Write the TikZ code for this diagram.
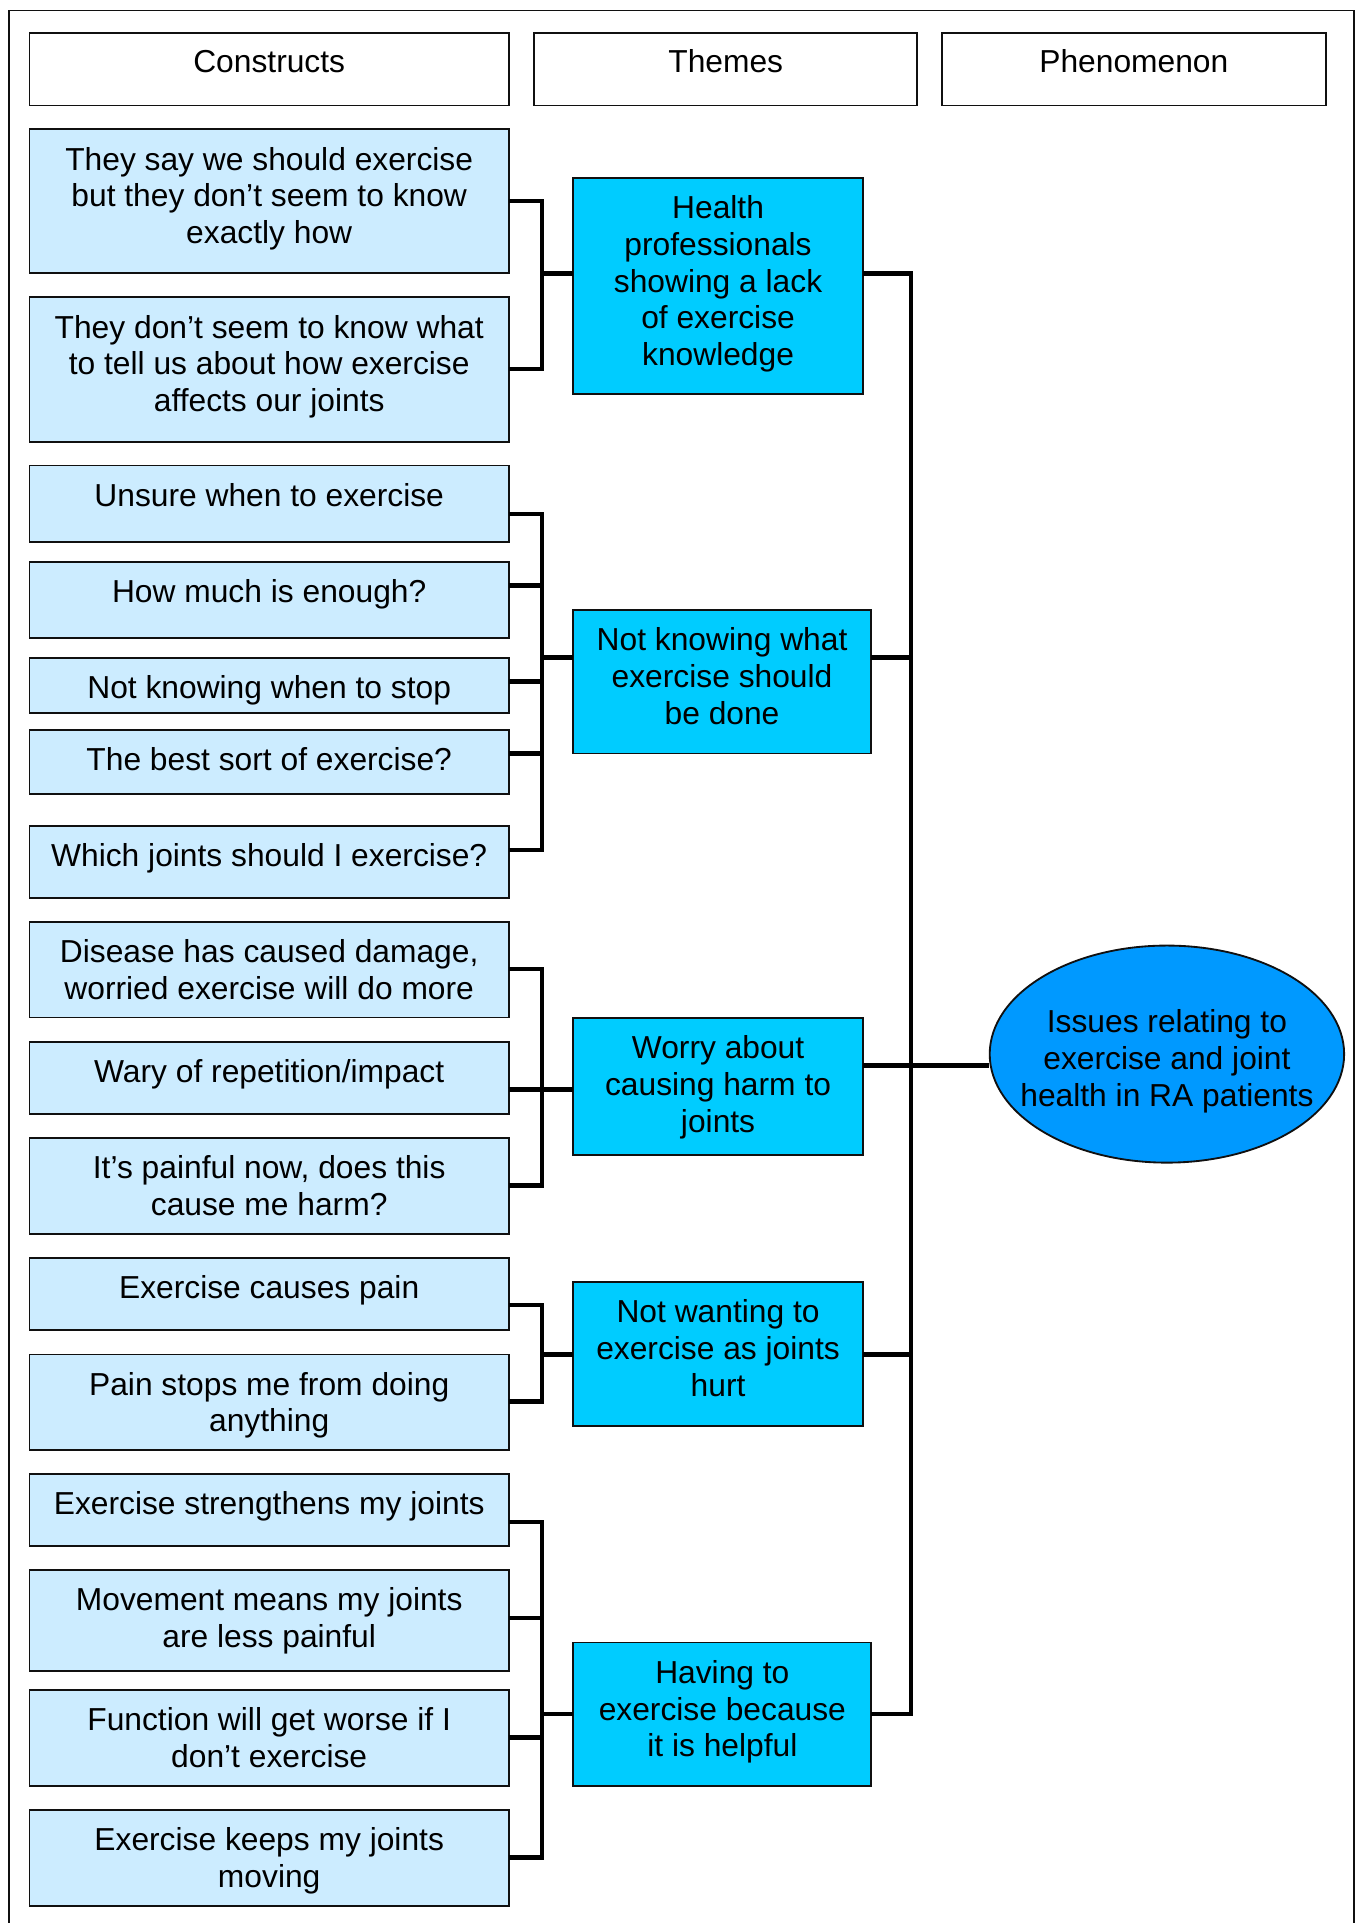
\documentclass[tikz,border=0pt]{standalone}
\usepackage{fontspec}
\setmainfont{Liberation Sans}
\usetikzlibrary{shapes.geometric}
\definecolor{constructfill}{HTML}{CCECFF}
\definecolor{themefill}{HTML}{00CCFF}
\definecolor{phenfill}{HTML}{0099FF}
\definecolor{edgegray}{HTML}{101010}

% construct box: name, top, height, text
\newcommand\consbox[4]{%
  \node[cbox, minimum height=#3] (#1) at (24,#2) {};
  \node[txt] (#1-text) at ([yshift=-12pt]#1.north) {\strut #4};}
% theme box: name, top, width, height, text
\newcommand\themebox[5]{%
  \node[tbox, minimum width=#3, minimum height=#4] (#1) at (467.5,#2) {};
  \node[txt] (#1-text) at ([yshift=-12pt]#1.north) {\strut #5};}

\begin{document}
\begin{tikzpicture}[x=1pt,y=-1pt,
  box/.style={draw=edgegray, line width=1.5pt, anchor=north west, inner sep=0pt, outer sep=0pt},
  hdr/.style={box, fill=white, minimum height=59},
  cbox/.style={box, fill=constructfill, minimum width=391},
  tbox/.style={box, fill=themefill},
  txt/.style={anchor=north, align=center, inner sep=0pt, font=\fontsize{25.9}{30}\selectfont},
  conn/.style={line width=3.7pt, draw=black}
]
\useasboundingbox (0,0) rectangle (1109,1568);

% outer frame (open at the bottom)
\draw[line width=1.5pt, draw=edgegray] (7.5,1570) -- (7.5,8.5) -- (1104,8.5) -- (1104,1570);

% column headers
\node[hdr, minimum width=391] (hc) at (24,27) {};
\node[txt] (hc-text) at ([yshift=-11pt]hc.north) {\strut Constructs};
\node[hdr, minimum width=312.5] (ht) at (435.5,27) {};
\node[txt] (ht-text) at ([yshift=-11pt]ht.north) {\strut Themes};
\node[hdr, minimum width=313] (hp) at (768,27) {};
\node[txt] (hp-text) at ([yshift=-11pt]hp.north) {\strut Phenomenon};

% constructs
\consbox{c1}{105.5}{117.4}{They say we should exercise\\but they don’t seem to know\\exactly how}
\consbox{c2}{242.5}{117.7}{They don’t seem to know what\\to tell us about how exercise\\affects our joints}
\consbox{c3}{379.5}{62.2}{Unsure when to exercise}
\consbox{c4}{458}{62.3}{How much is enough?}
\consbox{c5}{536.6}{44.6}{Not knowing when to stop}
\consbox{c6}{595}{52.7}{The best sort of exercise?}
\consbox{c7}{673.6}{58.4}{Which joints should I exercise?}
\consbox{c8}{751.7}{78}{Disease has caused damage,\\worried exercise will do more}
\consbox{c9}{849.4}{58.6}{Wary of repetition/impact}
\consbox{c10}{928}{78}{It’s painful now, does this\\cause me harm?}
\consbox{c11}{1025.7}{58.7}{Exercise causes pain}
\consbox{c12}{1104.4}{78}{Pain stops me from doing\\anything}
\consbox{c13}{1202}{58.7}{Exercise strengthens my joints}
\consbox{c14}{1280.3}{82.1}{Movement means my joints\\are less painful}
\consbox{c15}{1378.1}{78.3}{Function will get worse if I\\don’t exercise}
\consbox{c16}{1476}{78.3}{Exercise keeps my joints\\moving}

% themes
\themebox{tA}{145}{236}{176}{Health\\professionals\\showing a lack\\of exercise\\knowledge}
\themebox{tB}{497.4}{242.5}{117}{Not knowing what\\exercise should\\be done}
\themebox{tC}{830}{236}{111.5}{Worry about\\causing harm to\\joints}
\themebox{tD}{1045.4}{236}{117.3}{Not wanting to\\exercise as joints\\hurt}
\themebox{tE}{1339.3}{243}{117}{Having to\\exercise because\\it is helpful}

% phenomenon
\node[ellipse, draw=edgegray, line width=1.5pt, fill=phenfill, inner sep=0pt,
      minimum width=289, minimum height=177] (ph) at (951.5,859.5) {};
\node[txt] (ph-text) at (951.5,821) {\strut Issues relating to\\exercise and joint\\health in RA patients};

% bracket junctions
\coordinate (jA) at (442,222.9);
\coordinate (jB) at (442,536);
\coordinate (jC) at (442,888.4);
\coordinate (jD) at (442,1104.4);
\coordinate (jE) at (442,1397.7);
\coordinate (jP) at (743,869);

% constructs -> themes
\draw[conn] (c1.east |- 0,163.9) -| (jA);
\draw[conn] (c2.east |- 0,300.9) -| (jA);
\draw[conn] (jA) -- (tA.west |- jA);

\draw[conn] (c3.east |- 0,419) -| (jB);
\draw[conn] (c4.east |- 0,477.6) -| (jB);
\draw[conn] (c5.east |- 0,555.6) -| (jB);
\draw[conn] (c6.east |- 0,614.3) -| (jB);
\draw[conn] (c7.east |- 0,693.1) -| (jB);
\draw[conn] (jB) -- (tB.west |- jB);

\draw[conn] (c8.east |- 0,790) -| (jC);
\draw[conn] (c9.east |- 0,888.4) -| (jC);
\draw[conn] (c10.east |- 0,966.7) -| (jC);
\draw[conn] (jC) -- (tC.west |- jC);

\draw[conn] (c11.east |- 0,1064) -| (jD);
\draw[conn] (c12.east |- 0,1142.7) -| (jD);
\draw[conn] (jD) -- (tD.west |- jD);

\draw[conn] (c13.east |- 0,1240.9) -| (jE);
\draw[conn] (c14.east |- 0,1319.2) -| (jE);
\draw[conn] (c15.east |- 0,1416.7) -| (jE);
\draw[conn] (c16.east |- 0,1514.6) -| (jE);
\draw[conn] (jE) -- (tE.west |- jE);

% themes -> phenomenon
\draw[conn] (tA.east |- 0,222.9) -| (jP);
\draw[conn] (tB.east |- 0,536) -| (jP);
\draw[conn] (tC.east |- 0,869) -- (jP);
\draw[conn] (tD.east |- 0,1104.4) -| (jP);
\draw[conn] (tE.east |- 0,1397.7) -| (jP);
\draw[conn] (jP) -- (ph.west |- jP);
\end{tikzpicture}
\end{document}
